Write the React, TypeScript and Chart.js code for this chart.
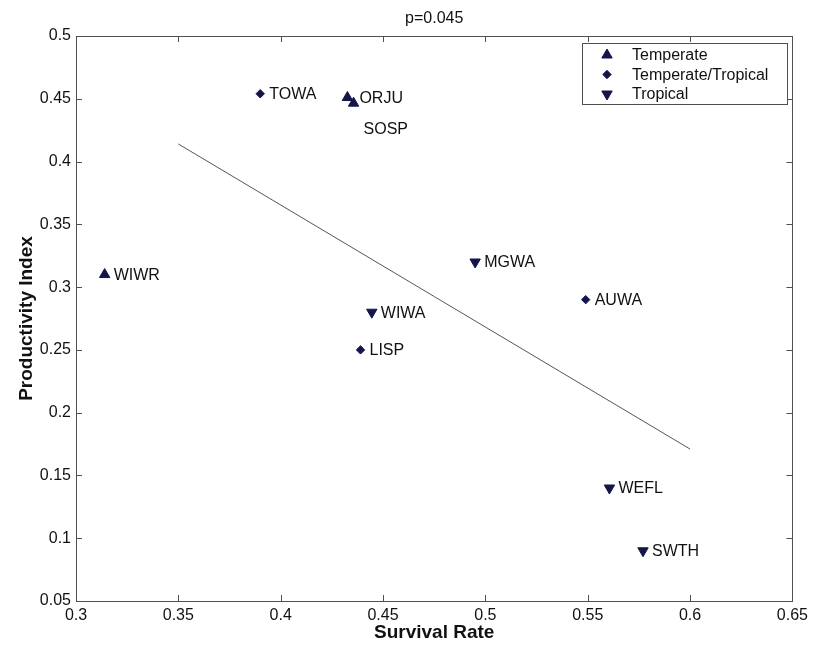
import React, { useEffect, useRef } from "react";
import { Chart, registerables } from "chart.js";
import { drawPoint } from "chart.js/helpers";

Chart.register(...registerables);

// ---- Data ----
const temperateCodes = ["WIWR", "ORJU", "SOSP"];
const temperateSurvival = [0.314, 0.4326, 0.4356];
const temperateProductivity = [0.31, 0.451, 0.4465];

const tempTropCodes = ["TOWA", "LISP", "AUWA"];
const tempTropSurvival = [0.39, 0.439, 0.549];
const tempTropProductivity = [0.454, 0.25, 0.29];

const tropicalCodes = ["WIWA", "MGWA", "WEFL", "SWTH"];
const tropicalSurvival = [0.4445, 0.495, 0.5606, 0.577];
const tropicalProductivity = [0.28, 0.32, 0.14, 0.09];

const trendSurvival = [0.35, 0.6];
const trendProductivity = [0.414, 0.171];

const xTickValues = [0.3, 0.35, 0.4, 0.45, 0.5, 0.55, 0.6, 0.65];
const xTickLabels = ["0.3", "0.35", "0.4", "0.45", "0.5", "0.55", "0.6", "0.65"];
const yTickValues = [0.05, 0.1, 0.15, 0.2, 0.25, 0.3, 0.35, 0.4, 0.45, 0.5];
const yTickLabels = ["0.05", "0.1", "0.15", "0.2", "0.25", "0.3", "0.35", "0.4", "0.45", "0.5"];

const legendLabels = ["Temperate", "Temperate/Tropical", "Tropical"];
const titleText = "p=0.045";

// label placement tweaks (style, not data)
const labelOffsets: Record<string, [number, number]> = {
  ORJU: [12, 0],
  SOSP: [10, 25],
};

const FONT = "'Liberation Sans', Arial, sans-serif";
const MARK = "#15154a";

const zip = (xs: number[], ys: number[]) => xs.map((x, i) => ({ x, y: ys[i] }));

const markerStyles = [
  { pointStyle: "triangle", radius: 6, rotation: 0 },
  { pointStyle: "rectRot", radius: 4.2, rotation: 0 },
  { pointStyle: "triangle", radius: 6, rotation: 180 },
];

const decorPlugin = {
  id: "decor",
  afterDraw(chart: any) {
    const { ctx, chartArea: a, scales } = chart;
    const xs = scales.x;
    const ys = scales.y;
    ctx.save();
    // box
    ctx.strokeStyle = "#505050";
    ctx.lineWidth = 1;
    ctx.strokeRect(Math.round(a.left) + 0.5, Math.round(a.top) + 0.5, Math.round(a.right - a.left), Math.round(a.bottom - a.top));
    // inward ticks
    const tl = 6;
    ctx.beginPath();
    xTickValues.forEach((v) => {
      const px = Math.round(xs.getPixelForValue(v)) + 0.5;
      ctx.moveTo(px, a.bottom);
      ctx.lineTo(px, a.bottom - tl);
      ctx.moveTo(px, a.top);
      ctx.lineTo(px, a.top + tl);
    });
    yTickValues.forEach((v) => {
      const py = Math.round(ys.getPixelForValue(v)) + 0.5;
      ctx.moveTo(a.left, py);
      ctx.lineTo(a.left + tl, py);
      ctx.moveTo(a.right, py);
      ctx.lineTo(a.right - tl, py);
    });
    ctx.stroke();

    // title
    ctx.fillStyle = "#111";
    ctx.font = `16px ${FONT}`;
    ctx.textAlign = "center";
    ctx.textBaseline = "middle";
    ctx.fillText(titleText, (a.left + a.right) / 2, a.top - 17);

    // point labels
    const codeSets = [temperateCodes, tempTropCodes, tropicalCodes];
    ctx.textAlign = "left";
    codeSets.forEach((codes, di) => {
      const meta = chart.getDatasetMeta(di);
      meta.data.forEach((el: any, i: number) => {
        const code = codes[i];
        const off = labelOffsets[code] || [9, 0];
        ctx.fillText(code, el.x + off[0], el.y + off[1] + 1);
      });
    });

    // legend
    const lx = 582, ly = 43, lw = 205, lh = 61;
    ctx.fillStyle = "#fff";
    ctx.fillRect(lx, ly, lw, lh);
    ctx.strokeStyle = "#505050";
    ctx.strokeRect(lx + 0.5, ly + 0.5, lw, lh);
    legendLabels.forEach((lab, i) => {
      const cy = ly + 12 + i * 19.5;
      const ms = markerStyles[i];
      ctx.fillStyle = MARK;
      ctx.strokeStyle = MARK;
      drawPoint(ctx, { pointStyle: ms.pointStyle, radius: ms.radius, rotation: ms.rotation, borderWidth: 1 }, lx + 25, cy);
      ctx.fillStyle = "#111";
      ctx.fillText(lab, lx + 50, cy + 1);
    });
    ctx.restore();
  },
};

export default function App() {
  const ref = useRef<HTMLCanvasElement>(null);
  useEffect(() => {
    if (!ref.current) return;
    const mk = (label: string, data: any[], i: number) => ({
      label,
      data,
      showLine: false,
      pointStyle: markerStyles[i].pointStyle,
      pointRadius: markerStyles[i].radius,
      pointRotation: markerStyles[i].rotation,
      backgroundColor: MARK,
      borderColor: MARK,
      borderWidth: 1,
    });
    const chart = new Chart(ref.current, {
      type: "scatter",
      data: {
        datasets: [
          mk(legendLabels[0], zip(temperateSurvival, temperateProductivity), 0),
          mk(legendLabels[1], zip(tempTropSurvival, tempTropProductivity), 1),
          mk(legendLabels[2], zip(tropicalSurvival, tropicalProductivity), 2),
          {
            label: "trend",
            data: zip(trendSurvival, trendProductivity),
            showLine: true,
            pointRadius: 0,
            borderColor: "#555",
            borderWidth: 1,
          } as any,
        ],
      },
      options: {
        responsive: false,
        animation: false,
        layout: { padding: { top: 36, right: 17, left: 0, bottom: 0 } },
        plugins: {
          legend: { display: false },
          tooltip: { enabled: false },
          title: { display: false },
        },
        scales: {
          x: {
            type: "linear",
            min: 0.3,
            max: 0.65,
            grid: { display: false, drawTicks: false },
            border: { display: false },
            afterBuildTicks: (s: any) => {
              s.ticks = xTickValues.map((v) => ({ value: v }));
            },
            afterFit: (s: any) => {
              s.height = 48;
            },
            ticks: {
              padding: 5,
              color: "#111",
              font: { family: FONT, size: 16 },
              maxRotation: 0,
              autoSkip: false,
              callback: (_v: any, i: number) => xTickLabels[i],
            },
            title: {
              display: true,
              text: "Survival Rate",
              color: "#111",
              font: { family: FONT, size: 19, weight: "bold" },
              padding: { top: 0, bottom: 5 },
            },
          },
          y: {
            type: "linear",
            min: 0.05,
            max: 0.5,
            grid: { display: false, drawTicks: false },
            border: { display: false },
            afterBuildTicks: (s: any) => {
              s.ticks = yTickValues.map((v) => ({ value: v }));
            },
            afterFit: (s: any) => {
              s.width = 76;
            },
            ticks: {
              padding: 5,
              color: "#111",
              font: { family: FONT, size: 16 },
              autoSkip: false,
              callback: (_v: any, i: number) => yTickLabels[i],
            },
            title: {
              display: true,
              text: "Productivity Index",
              color: "#111",
              font: { family: FONT, size: 19, weight: "bold" },
              padding: { top: 15, bottom: 0 },
            },
          },
        },
      } as any,
      plugins: [decorPlugin],
    });
    return () => chart.destroy();
  }, []);
  return (
    <div style={{ position: "absolute", left: 0, top: 0, width: 813, height: 649, background: "#fff" }}>
      <canvas ref={ref} width={813} height={649} />
    </div>
  );
}
